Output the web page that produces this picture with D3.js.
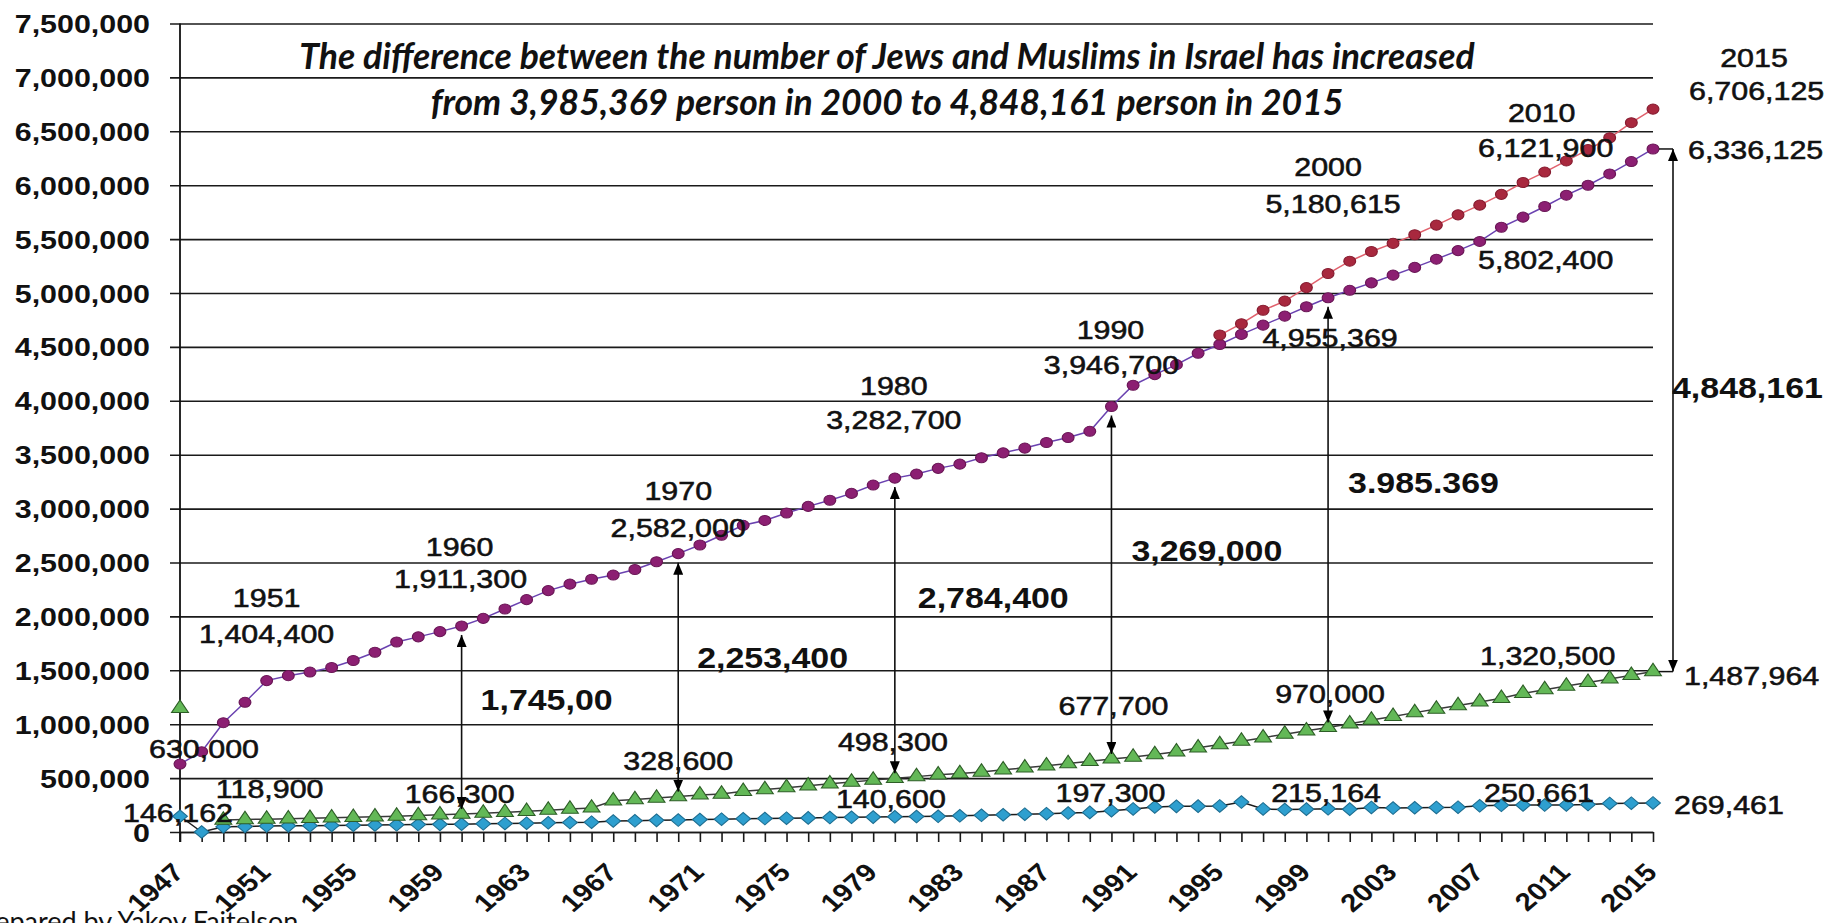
<!DOCTYPE html>
<html>
<head>
<meta charset="utf-8">
<script src="https://cdn.jsdelivr.net/npm/d3@7/dist/d3.min.js"></script>
<style>
  body { margin: 0; background: #fff; }
  svg { display: block; }
</style>
</head>
<body>
<div id="chart"></div>
<script>
var viewWidth = 1826;
var viewHeight = 923;
var mainFont = '"Liberation Sans", Arial, sans-serif';
var titleFont = 'Lato, "Open Sans", sans-serif';
var stretch = 1.17; // the original picture is a little wider than tall

var plotLeft = 180;
var plotRight = 1653;
var plotTop = 23.5;
var plotBottom = 832;

var years = [1947, 1948, 1949, 1950, 1951, 1952, 1953, 1954, 1955, 1956,
    1957, 1958, 1959, 1960, 1961, 1962, 1963, 1964, 1965, 1966,
    1967, 1968, 1969, 1970, 1971, 1972, 1973, 1974, 1975, 1976,
    1977, 1978, 1979, 1980, 1981, 1982, 1983, 1984, 1985, 1986,
    1987, 1988, 1989, 1990, 1991, 1992, 1993, 1994, 1995, 1996,
    1997, 1998, 1999, 2000, 2001, 2002, 2003, 2004, 2005, 2006,
    2007, 2008, 2009, 2010, 2011, 2012, 2013, 2014, 2015];

var jews = [630000, 745000, 1013900, 1203000, 1404400, 1450200, 1483600, 1526000, 1590500, 1667500,
    1762800, 1810200, 1858800, 1911300, 1981700, 2068900, 2155600, 2239200, 2299100, 2344900,
    2383600, 2434800, 2506800, 2582000, 2662000, 2752700, 2845000, 2890200, 2959400, 3020400,
    3077300, 3141200, 3218400, 3282700, 3320300, 3373200, 3412500, 3471700, 3517200, 3561400,
    3612900, 3659000, 3717100, 3946700, 4144600, 4242500, 4335200, 4441100, 4522300, 4616100,
    4701600, 4785100, 4872800, 4955369, 5025000, 5094200, 5165400, 5237600, 5313800, 5393400,
    5478200, 5610000, 5703700, 5802400, 5907500, 5999600, 6104500, 6219200, 6336125];

var jewsAndOthers = [null, null, null, null, null, null, null, null, null, null,
    null, null, null, null, null, null, null, null, null, null,
    null, null, null, null, null, null, null, null, null, null,
    null, null, null, null, null, null, null, null, null, null,
    null, null, null, null, null, null, null, null, 4610000, 4715000,
    4840000, 4925000, 5050000, 5180615, 5295000, 5385000, 5460000, 5540000, 5630000, 5725000,
    5815000, 5915000, 6025000, 6121900, 6225000, 6330000, 6440000, 6580000, 6706125];

var muslims = [1147000, null, 111500, 116100, 118900, 122800, 127600, 131800, 136300, 141400,
    146800, 152800, 159200, 166300, 174900, 183000, 192200, 202300, 212400, 223000,
    289600, 300800, 314500, 328600, 344000, 352000, 377200, 393500, 411400, 429100,
    446500, 463500, 481200, 498300, 513700, 530800, 542200, 556000, 577600, 595000,
    614500, 634600, 655200, 677700, 695200, 718800, 744200, 781500, 811200, 842500,
    874600, 907300, 938400, 970000, 1004400, 1038300, 1072100, 1107400, 1140600, 1173100,
    1206600, 1240000, 1286500, 1320500, 1354300, 1387500, 1420300, 1453800, 1487964];

var others = [146162, 0, 48000, 51000, 55000, 57000, 59000, 61000, 63000, 65000,
    67000, 69000, 71000, 73000, 76000, 79000, 82000, 85000, 88000, 91000,
    102000, 104000, 108000, 111000, 115000, 119000, 122000, 125000, 128000, 131000,
    134000, 136000, 138000, 140600, 143000, 146000, 150000, 155000, 160000, 165000,
    170000, 176000, 182000, 197300, 214000, 232000, 238000, 240000, 242000, 278000,
    214000, 208000, 212000, 215164, 212000, 228000, 222000, 225000, 228000, 230000,
    243000, 248000, 250661, 250000, 251000, 255000, 265000, 267000, 269461];

var yTicks = [0, 500000, 1000000, 1500000, 2000000, 2500000, 3000000, 3500000,
    4000000, 4500000, 5000000, 5500000, 6000000, 6500000, 7000000, 7500000];
var xTickYears = [1947, 1951, 1955, 1959, 1963, 1967, 1971, 1975, 1979,
    1983, 1987, 1991, 1995, 1999, 2003, 2007, 2011, 2015];

var diffYears = [1960, 1970, 1980, 1990, 2000, 2015];
var diffLabels = ['1,745,00', '2,253,400', '2,784,400', '3,269,000', '3.985.369', '4,848,161'];

var titleLines = ['The difference between the number of Jews and Muslims in Israel has increased',
    'from 3,985,369 person in 2000 to 4,848,161 person in 2015'];
var footer = 'Prepared by Yakov Faitelson';

// point labels: [series, year, text]
var pointLabels = [
    ['jews', 1947, '630,000'], ['jews', 1951, '1951'], ['jews', 1951, '1,404,400'],
    ['jews', 1960, '1960'], ['jews', 1960, '1,911,300'], ['jews', 1970, '1970'],
    ['jews', 1970, '2,582,000'], ['jews', 1980, '1980'], ['jews', 1980, '3,282,700'],
    ['jews', 1990, '1990'], ['jews', 1990, '3,946,700'], ['jews', 2000, '4,955,369'],
    ['jews', 2010, '5,802,400'], ['jews', 2015, '6,336,125'],
    ['jewsAndOthers', 2000, '2000'], ['jewsAndOthers', 2000, '5,180,615'],
    ['jewsAndOthers', 2010, '2010'], ['jewsAndOthers', 2010, '6,121,900'],
    ['jewsAndOthers', 2015, '2015'], ['jewsAndOthers', 2015, '6,706,125'],
    ['muslims', 1951, '118,900'], ['muslims', 1960, '166,300'], ['muslims', 1970, '328,600'],
    ['muslims', 1980, '498,300'], ['muslims', 1990, '677,700'], ['muslims', 2000, '970,000'],
    ['muslims', 2010, '1,320,500'], ['muslims', 2015, '1,487,964'],
    ['others', 1947, '146,162'], ['others', 1980, '140,600'], ['others', 1990, '197,300'],
    ['others', 2000, '215,164'], ['others', 2009, '250,661'], ['others', 2015, '269,461']
];

// hand placement of those labels, offset from their point: [dx, dy, anchor]
var pointLabelLayout = [
    [24, -6, 'middle'], [0, -74, 'middle'], [0, -38, 'middle'],
    [-2, -70, 'middle'], [-1, -38, 'middle'], [0, -54, 'middle'],
    [0, -17, 'middle'], [-1, -83, 'middle'], [-1, -49, 'middle'],
    [-1, -68, 'middle'], [0, -33, 'middle'], [2, 49, 'middle'],
    [1, 62, 'middle'], [35, 10, 'start'],
    [0, -98, 'middle'], [5, -61, 'middle'],
    [-3, -50, 'middle'], [1, -15, 'middle'],
    [101, -42, 'middle'], [36, -9, 'start'],
    [3, -21, 'middle'], [-2, -11, 'middle'], [0, -27, 'middle'],
    [-2, -27, 'middle'], [2, -44, 'middle'], [2, -24, 'middle'],
    [3, -25, 'middle'], [31, 13, 'start'],
    [-2, 6, 'middle'], [-4, -9, 'middle'], [-1, -9, 'middle'],
    [-2, -7, 'middle'], [16, -3, 'middle'], [21, 11, 'start']
];
var diffLabelLayout = [[19, -12], [19, -9], [23, -22], [20, -24], [20, -22], [19, -12]];

window.onload = function() {
    var svg = d3.select('#chart').append('svg')
        .attr('width', viewWidth)
        .attr('height', viewHeight);

    svg.append('rect')
        .attr('width', viewWidth)
        .attr('height', viewHeight)
        .attr('fill', '#fff');

    var x = d3.scalePoint().domain(years).range([plotLeft, plotRight]);
    var y = d3.scaleLinear().domain([0, 7500000]).range([plotBottom, plotTop]);

    var series = {
        jews: jews,
        jewsAndOthers: jewsAndOthers,
        muslims: muslims,
        others: others
    };
    function valueAt(name, year) {
        return series[name][years.indexOf(year)];
    }

    drawAxes(svg, x, y);
    drawTitle(svg);
    drawSeries(svg, x, y, others, '#1c1c1c', 'diamond', '#2e9fcf', '#1d6d90');
    drawSeries(svg, x, y, muslims, '#3a3a3a', 'triangle', '#63b857', '#2d5e26');
    drawSeries(svg, x, y, jews, '#6a42b0', 'circle', '#8c1f72', '#6a1656');
    drawSeries(svg, x, y, jewsAndOthers, '#e0606c', 'circle', '#a8283e', '#861c30');
    drawArrows(svg, x, y, valueAt);

    pointLabels.forEach(function(d, i) {
        var lay = pointLabelLayout[i];
        addText(svg, x(d[1]) + lay[0], y(valueAt(d[0], d[1])) + lay[1], d[2],
            { size: 26, anchor: lay[2], heavy: true });
    });

    addText(svg, -30, 931, footer, { size: 27, family: titleFont, stretch: 1 });
};

function addText(g, tx, ty, str, o) {
    var sx = o.stretch || stretch;
    var tr = 'translate(' + tx + ',' + ty + ') scale(' + sx + ',1)';
    if (o.rotate) tr += ' rotate(' + o.rotate + ')';
    var t = g.append('text')
        .attr('transform', tr)
        .attr('text-anchor', o.anchor || 'start')
        .style('font-family', o.family || mainFont)
        .style('font-size', o.size + 'px')
        .style('font-weight', o.bold ? 'bold' : 'normal')
        .style('font-style', o.italic ? 'italic' : 'normal')
        .attr('fill', '#111')
        .text(str);
    if (o.heavy) {
        // the source's labels read a touch heavier than plain regular
        t.attr('stroke', '#111').attr('stroke-width', 0.55);
    }
    return t;
}

function drawAxes(svg, x, y) {
    // gridlines + y labels, axis hung on the right edge so ticks run leftwards
    var yAxis = d3.axisLeft(y)
        .tickValues(yTicks)
        .tickSize(plotRight - plotLeft + 10)
        .tickFormat(d3.format(','));
    var gy = svg.append('g')
        .attr('transform', 'translate(' + plotRight + ',0)')
        .call(yAxis);
    gy.select('.domain').remove();
    gy.selectAll('.tick line')
        .attr('stroke', '#1a1a1a')
        .attr('stroke-width', 1.6);
    gy.selectAll('.tick text')
        .attr('x', null)
        .attr('dy', null)
        .attr('transform', 'translate(' + (-(plotRight - 150)) + ',9) scale(' + stretch + ',1)')
        .attr('text-anchor', 'end')
        .attr('fill', '#111')
        .style('font-family', mainFont)
        .style('font-size', '26px')
        .style('font-weight', 'bold');

    var xAxis = d3.axisBottom(x)
        .tickSizeInner(10)
        .tickSizeOuter(0)
        .tickFormat(function(d) { return xTickYears.indexOf(d) >= 0 ? d : ''; });
    var gx = svg.append('g')
        .attr('transform', 'translate(0,' + plotBottom + ')')
        .call(xAxis);
    gx.select('.domain')
        .attr('stroke', '#1a1a1a')
        .attr('stroke-width', 1.6);
    gx.selectAll('.tick line')
        .attr('stroke', '#1a1a1a')
        .attr('stroke-width', 1.6);
    gx.selectAll('.tick text')
        .attr('y', null)
        .attr('dy', null)
        .attr('transform', 'translate(5,42) scale(' + stretch + ',1) rotate(-45)')
        .attr('text-anchor', 'end')
        .attr('fill', '#111')
        .style('font-family', mainFont)
        .style('font-size', '25px')
        .style('font-weight', 'bold');

    // vertical axis line
    svg.append('line')
        .attr('x1', plotLeft)
        .attr('x2', plotLeft)
        .attr('y1', y(7500000))
        .attr('y2', plotBottom + 10)
        .attr('stroke', '#111')
        .attr('stroke-width', 1.8);
}

function drawTitle(svg) {
    addText(svg, 887, 69, titleLines[0],
        { size: 35.5, anchor: 'middle', family: titleFont, bold: true, italic: true, stretch: 1 });
    addText(svg, 887, 115, titleLines[1],
        { size: 35.5, anchor: 'middle', family: titleFont, bold: true, italic: true, stretch: 1 });
}

function drawSeries(svg, x, y, values, lineColor, shape, fill, stroke) {
    var pts = years.map(function(yr, i) { return { year: yr, v: values[i] }; });
    var line = d3.line()
        .defined(function(d) { return d.v != null; })
        .x(function(d) { return x(d.year); })
        .y(function(d) { return y(d.v); });

    svg.append('path')
        .datum(pts)
        .attr('d', line)
        .attr('fill', 'none')
        .attr('stroke', lineColor)
        .attr('stroke-width', 1.5);

    var sym;
    var rot = '';
    if (shape === 'circle') sym = d3.symbol().type(d3.symbolCircle).size(80);
    else if (shape === 'triangle') sym = d3.symbol().type(d3.symbolTriangle).size(90);
    else { sym = d3.symbol().type(d3.symbolSquare).size(80); rot = ' rotate(45)'; }

    svg.append('g').selectAll('path')
        .data(pts.filter(function(d) { return d.v != null; }))
        .enter().append('path')
        .attr('d', sym)
        .attr('transform', function(d) {
            return 'translate(' + x(d.year) + ',' + y(d.v) + ') scale(' + stretch + ',1)' + rot;
        })
        .attr('fill', fill)
        .attr('stroke', stroke)
        .attr('stroke-width', 1);
}

function drawArrows(svg, x, y, valueAt) {
    svg.append('defs').append('marker')
        .attr('id', 'head')
        .attr('viewBox', '0 0 12 10')
        .attr('refX', 12)
        .attr('refY', 5)
        .attr('markerWidth', 12)
        .attr('markerHeight', 10)
        .attr('markerUnits', 'userSpaceOnUse')
        .attr('orient', 'auto-start-reverse')
        .append('path')
        .attr('d', 'M0,0L12,5L0,10Z')
        .attr('fill', '#000');

    diffYears.forEach(function(yr, i) {
        var last = i === diffYears.length - 1;
        var ax = x(yr) + (last ? 20 : 0);
        var yTop = y(valueAt('jews', yr)) + (last ? 0 : 9);
        var yBot = y(valueAt('muslims', yr)) - (last ? 0 : 5);

        if (last) {
            // short leaders from the last points out to the arrow
            [yTop, yBot].forEach(function(ly) {
                svg.append('line')
                    .attr('x1', x(yr) + 6)
                    .attr('x2', ax)
                    .attr('y1', ly)
                    .attr('y2', ly)
                    .attr('stroke', '#111')
                    .attr('stroke-width', 1.5);
            });
        }

        svg.append('line')
            .attr('x1', ax)
            .attr('x2', ax)
            .attr('y1', yTop)
            .attr('y2', yBot)
            .attr('stroke', '#111')
            .attr('stroke-width', 1.6)
            .attr('marker-start', 'url(#head)')
            .attr('marker-end', 'url(#head)');

        var lay = diffLabelLayout[i];
        addText(svg, x(yr) + lay[0], (yTop + yBot) / 2 + lay[1], diffLabels[i],
            { size: 29, bold: true });
    });
}
</script>
</body>
</html>
